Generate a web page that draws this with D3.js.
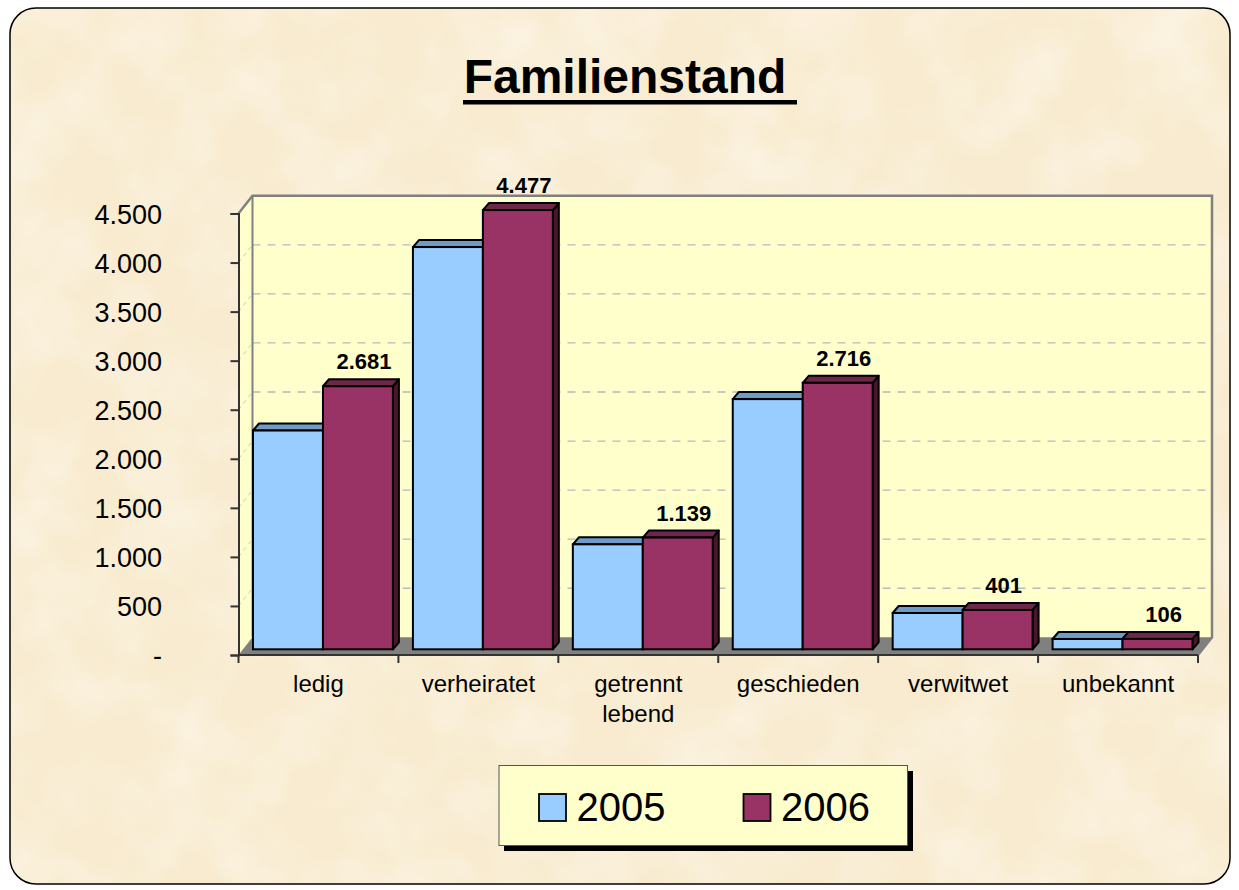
<!DOCTYPE html>
<html>
<head>
<meta charset="utf-8">
<script src="https://cdn.jsdelivr.net/npm/d3@7"></script>
<style>
  body { margin: 0; background: #fff; }
  svg { display: block; font-family: Arial, "Liberation Sans", sans-serif; }
</style>
</head>
<body>
<svg id="chart" width="1239" height="890"></svg>
<script>
const categories = ["ledig", "verheiratet", "getrennt lebend", "geschieden", "verwitwet", "unbekannt"];
const years = ["2005", "2006"];
const values2005 = [2230, 4100, 1070, 2550, 370, 105];
const values2006 = [2681, 4477, 1139, 2716, 401, 106];
const yTicks = [0, 500, 1000, 1500, 2000, 2500, 3000, 3500, 4000, 4500];

const colors = { "2005": "#99ccff", "2006": "#993366" };
const topColors = { "2005": "#6e9bc8", "2006": "#6e2649" };
const sideColors = { "2005": "#4d6f91", "2006": "#4b1530" };

// depth of the chart floor and of the bars
const DX = 14, DY = -17.7;
const BX = 4.5, BY = -5.7;
const BDX = 6, BDY = -7;

const svg = d3.select("#chart");

const fmt = d3.formatLocale({ decimal: ",", thousands: ".", grouping: [3], currency: ["", "€"] }).format(",d");
const tickFmt = v => v === 0 ? "-" : fmt(v);

// parchment background
const defs = svg.append("defs");
const f = defs.append("filter").attr("id", "parch").attr("x", 0).attr("y", 0).attr("width", "100%").attr("height", "100%");
f.append("feTurbulence").attr("type", "fractalNoise").attr("baseFrequency", "0.014").attr("numOctaves", 3).attr("seed", 7);
f.append("feColorMatrix").attr("type", "matrix")
  .attr("values", "0 0 0 0 1  0 0 0 0 0.98  0 0 0 0 0.94  1.5 0 0 0 -0.55");

svg.append("rect").attr("x", 10).attr("y", 8).attr("width", 1220).attr("height", 876).attr("rx", 26)
  .attr("fill", "#f8ebcf");
svg.append("rect").attr("x", 10).attr("y", 8).attr("width", 1220).attr("height", 876).attr("rx", 26)
  .attr("fill", "#fff").attr("filter", "url(#parch)").attr("opacity", 0.6);
svg.append("rect").attr("x", 10).attr("y", 8).attr("width", 1220).attr("height", 876).attr("rx", 26)
  .attr("fill", "none").attr("stroke", "#000").attr("stroke-width", 1.5);

// title
svg.append("text").attr("x", 625).attr("y", 93).attr("text-anchor", "middle")
  .attr("font-size", 48).attr("font-weight", "bold").attr("fill", "#000").text("Familienstand");
svg.append("rect").attr("x", 463).attr("y", 100).attr("width", 334).attr("height", 4.5).attr("fill", "#000");

// scales
const x0 = d3.scaleBand().domain(categories).range([238.5, 1198]);
const x1 = d3.scaleBand().domain(years).range([10, x0.bandwidth() - 10]);
const y = d3.scaleLinear().domain([0, 4500]).range([655, 213.5]);

const xLeft = x0.range()[0], xRight = x0.range()[1];
const yTop = y(4500), yBase = y(0);

// walls and floor
svg.append("polygon")
  .attr("points", [[xLeft, yTop], [xLeft + DX, yTop + DY], [xLeft + DX, yBase + DY], [xLeft, yBase]].join(" "))
  .attr("fill", "#ffffcc");
svg.append("rect").attr("x", xLeft + DX).attr("y", yTop + DY)
  .attr("width", xRight - xLeft).attr("height", yBase - yTop)
  .attr("fill", "#ffffcc");
svg.append("polygon")
  .attr("points", [[xLeft, yBase], [xLeft + DX, yBase + DY], [xRight + DX, yBase + DY], [xRight, yBase]].join(" "))
  .attr("fill", "#808080");

// gridlines
const grid = svg.append("g");
const inner = yTicks.filter(d => d > 0 && d < 4500);
grid.selectAll("line.back").data(inner).join("line").attr("class", "back")
  .attr("x1", xLeft + DX).attr("x2", xRight + DX)
  .attr("y1", d => y(d) + DY).attr("y2", d => y(d) + DY)
  .attr("stroke", "#b8b8c0").attr("stroke-width", 1.3).attr("stroke-dasharray", "8,7");
grid.selectAll("line.side").data(inner).join("line").attr("class", "side")
  .attr("x1", xLeft).attr("x2", xLeft + DX)
  .attr("y1", d => y(d)).attr("y2", d => y(d) + DY)
  .attr("stroke", "#c8c8c8").attr("stroke-width", 1).attr("stroke-dasharray", "4,4");

// wall frame
svg.append("path")
  .attr("d", `M${xLeft},${yTop}L${xLeft + DX},${yTop + DY}L${xRight + DX},${yTop + DY}L${xRight + DX},${yBase + DY}L${xRight},${yBase}`)
  .attr("fill", "none").attr("stroke", "#808080").attr("stroke-width", 2.5);
svg.append("line").attr("x1", xLeft + DX).attr("x2", xLeft + DX).attr("y1", yTop + DY).attr("y2", yBase + DY)
  .attr("stroke", "#808080").attr("stroke-width", 2);

// bars
const rows = categories.map((c, i) => ({ cat: c, values: [
  { year: "2005", value: values2005[i] },
  { year: "2006", value: values2006[i] }
]}));

const groups = svg.append("g").selectAll("g").data(rows).join("g")
  .attr("transform", d => `translate(${x0(d.cat) + BX},${BY})`);

groups.each(function(row) {
  const g = d3.select(this);
  row.values.forEach(d => {
    const bx = x1(d.year), bw = x1.bandwidth();
    const by = y(d.value), bb = y(0);
    g.append("polygon")
      .attr("points", [[bx + bw, by], [bx + bw + BDX, by + BDY], [bx + bw + BDX, bb + BDY], [bx + bw, bb]].join(" "))
      .attr("fill", sideColors[d.year]).attr("stroke", "#000").attr("stroke-width", 2).attr("stroke-linejoin", "round");
    g.append("polygon")
      .attr("points", [[bx, by], [bx + BDX, by + BDY], [bx + bw + BDX, by + BDY], [bx + bw, by]].join(" "))
      .attr("fill", topColors[d.year]).attr("stroke", "#000").attr("stroke-width", 2).attr("stroke-linejoin", "round");
    g.append("rect").attr("x", bx).attr("y", by).attr("width", bw).attr("height", bb - by)
      .attr("fill", colors[d.year]).attr("stroke", "#000").attr("stroke-width", 2);
  });
});

// data labels for 2006
svg.append("g").selectAll("text").data(rows).join("text")
  .attr("x", d => x0(d.cat) + BX + x1("2006") + x1.bandwidth() / 2 + 6)
  .attr("y", d => y(d.values[1].value) + BY - 17)
  .attr("text-anchor", "middle").attr("font-size", 22).attr("font-weight", "bold").attr("fill", "#000")
  .text(d => fmt(d.values[1].value));

// y axis
const yAxis = svg.append("g").attr("transform", `translate(${xLeft},0)`)
  .call(d3.axisLeft(y).tickValues(yTicks).tickSize(8).tickPadding(68.5).tickFormat(tickFmt));
yAxis.select(".domain").attr("stroke", "#333").attr("stroke-width", 2);
yAxis.selectAll(".tick line").attr("stroke", "#333").attr("stroke-width", 2);
yAxis.selectAll(".tick text").attr("font-size", 27).attr("fill", "#000")
  .attr("font-family", "Arial, 'Liberation Sans', sans-serif").attr("dy", "0.36em");

// x axis
const xAxis = svg.append("g").attr("transform", `translate(0,${yBase})`);
xAxis.append("line").attr("x1", xLeft).attr("x2", xRight).attr("y1", 0).attr("y2", 0)
  .attr("stroke", "#333").attr("stroke-width", 2);
xAxis.selectAll("line.tick").data(categories.map(c => x0(c)).concat([xRight])).join("line").attr("class", "tick")
  .attr("x1", d => d).attr("x2", d => d).attr("y1", 0).attr("y2", 8)
  .attr("stroke", "#333").attr("stroke-width", 2);
xAxis.selectAll("text").data(categories).join("text")
  .attr("x", d => x0(d) + x0.bandwidth() / 2).attr("y", 37)
  .attr("text-anchor", "middle").attr("font-size", 24).attr("fill", "#000")
  .each(function(d) {
    const t = d3.select(this);
    d.split(" ").forEach((w, i) => {
      t.append("tspan").attr("x", x0(d) + x0.bandwidth() / 2).attr("dy", i ? 30 : 0).text(w);
    });
  });

// legend
const legend = svg.append("g");
legend.append("rect").attr("x", 504).attr("y", 771).attr("width", 409).attr("height", 80).attr("fill", "#000");
legend.append("rect").attr("x", 499).attr("y", 765.5).attr("width", 408.5).attr("height", 80)
  .attr("fill", "#ffffcc").attr("stroke", "#555").attr("stroke-width", 1);
const legX = d3.scaleOrdinal().domain(years).range([539, 743.5]);
const items = legend.selectAll("g").data(years).join("g")
  .attr("transform", d => `translate(${legX(d)},794)`);
items.append("rect").attr("width", 27).attr("height", 27)
  .attr("fill", d => colors[d]).attr("stroke", "#000").attr("stroke-width", 1.8);
items.append("text").attr("x", 37.5).attr("y", 27).attr("font-size", 40).attr("fill", "#000").text(d => d);
</script>
</body>
</html>
